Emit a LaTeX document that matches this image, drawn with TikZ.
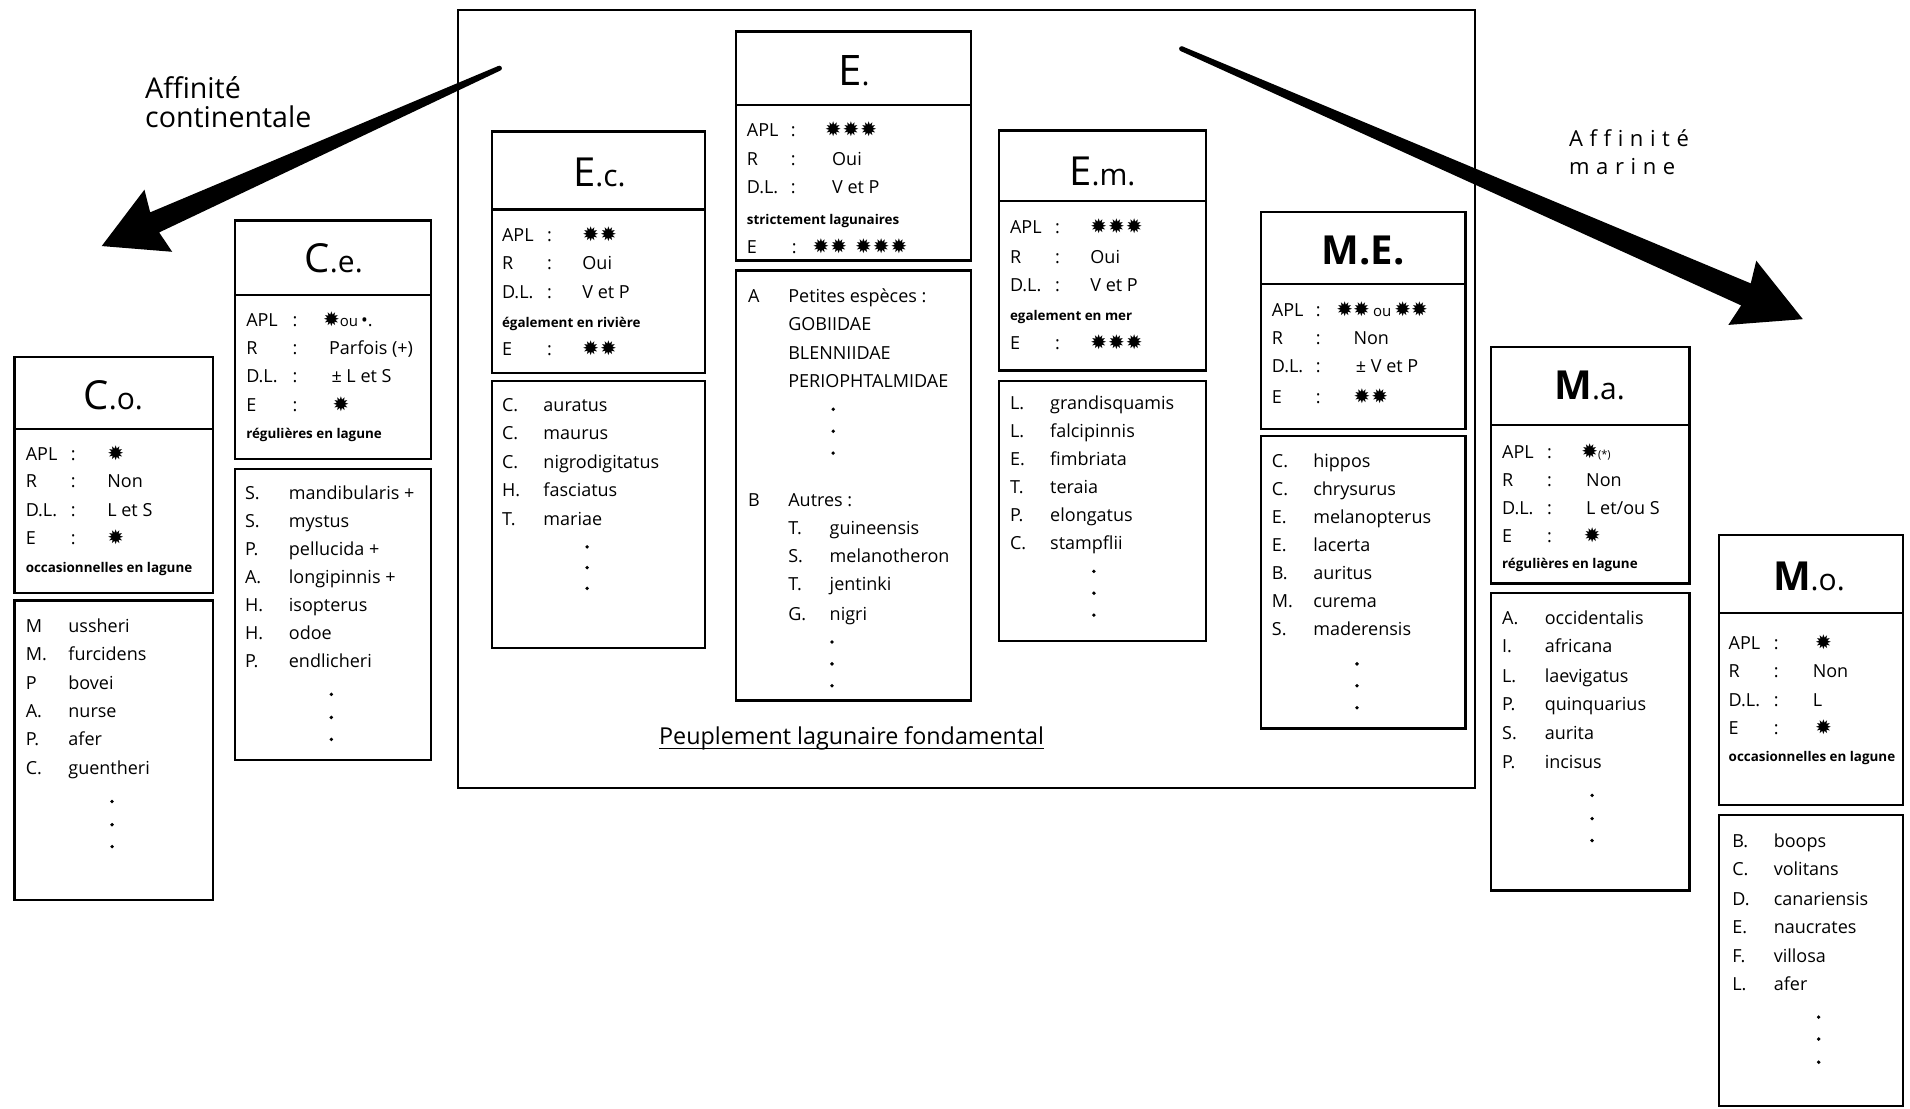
\documentclass[tikz,border=0pt]{standalone}
\usepackage{fontspec}
\setmainfont{Open Sans}
\newfontfamily\starf{DejaVu Sans}
\newfontfamily\spacedf[LetterSpace=30,Ligatures=NoCommon]{Open Sans}
\usetikzlibrary{calc}
\tikzset{
  boxline/.style={line width=2.4pt, line join=miter},
  frameline/.style={line width=2pt},
  txt/.style={anchor=base west, inner sep=0pt, font=\fontsize{18}{20}\selectfont},
  smalltxt/.style={anchor=base west, inner sep=0pt, font=\bfseries\fontsize{13.4}{15}\selectfont},
  ttl/.style={anchor=base, inner sep=0pt, font=\fontsize{40}{44}\selectfont},
  affin/.style={anchor=base west, inner sep=0pt, font=\fontsize{28.6}{32}\selectfont},
  affinm/.style={anchor=base west, inner sep=0pt, font=\spacedf\fontsize{22}{26}\selectfont},
}
\newcommand\st{{\starf\fontsize{20}{20}\selectfont ✹}}
\newcommand\ou{{\fontsize{15}{15}\selectfont ou}}
\newcommand\lc[1]{{\mdseries\fontsize{30}{32}\selectfont #1}}
% x1 x2 top div infobot listtop listbot
\newcommand\fishbox[7]{%
  \draw[boxline] (#1,#3) rectangle (#2,#5);
  \draw[boxline] (#1,#4) -- (#2,#4);
  \draw[boxline] (#1,#6) rectangle (#2,#7);}
% name lx cx vx y label value
\newcommand\kvrow[7]{%
  \node[txt] (#1-l) at (#2,#5+5) {#6};
  \node[txt] (#1-c) at (#3,#5+5) {:};
  \node[txt] (#1-v) at (#4,#5+5) {#7};}
% name ix sx y initial species
\newcommand\sprow[6]{%
  \node[txt] (#1-i) at (#2,#4+5) {#5};
  \node[txt] (#1-s) at (#3,#4+5) {#6};}
% x y1 y2 y3
\newcommand\threedots[4]{%
  \fill (#1,#2) circle (1.9pt);
  \fill (#1,#3) circle (1.9pt);
  \fill (#1,#4) circle (1.9pt);}
% tail tip headlen halfwidth shafthalf
\newcommand\bigarrow[5]{%
  \coordinate (#1-b) at ($(#2)!#3!(#1)$);
  \coordinate (#1-bb) at ($(#2)!#3+4pt!(#1)$);
  \fill ($(#1)!2.5pt!90:(#2)$) -- ($(#1-b)!#5!90:(#2)$) -- ($(#1-bb)!#4!90:(#2)$)
     -- (#2) -- ($(#1-bb)!#4!-90:(#2)$) -- ($(#1-b)!#5!-90:(#2)$)
     -- ($(#1)!2.5pt!-90:(#2)$) -- cycle;
  \fill (#1) circle (2.5pt);}

\begin{document}
\begin{tikzpicture}[x=1.218pt,y=-1.218pt]
\useasboundingbox (0,0) rectangle (1568,910);
\fill[white] (0,0) rectangle (1568,910);

% frame
\draw[frameline] (376,8) rectangle (1211,647);
\node[anchor=base west, inner sep=0pt, font=\fontsize{23.3}{27}\selectfont] (pl) at (541,611) {Peuplement lagunaire fondamental};
\draw[line width=1.4pt] ([yshift=-4pt]pl.base west) -- ([yshift=-4pt]pl.base east);

% arrows
\coordinate (lt) at (410,56);
\coordinate (lh) at (83.5,202);
\bigarrow{lt}{lh}{58pt}{34pt}{11pt}
\coordinate (rt) at (970,40);
\coordinate (rh) at (1480,262);
\bigarrow{rt}{rh}{62pt}{35pt}{12pt}

\node[affin] (ac1) at (119,81) {Affinité};
\node[affin] (ac2) at (119,105) {continentale};
\node[affinm] (am1) at (1288,120) {Affinité};
\node[affinm] (am2) at (1288,143) {marine};

% ---------- C.o.
\fishbox{12}{175}{293}{352}{487}{493}{739}
\node[ttl] (co-t) at (93,336) {C\lc{.o.}};
\kvrow{co-apl}{21}{58}{88}{373}{APL}{\st}
\kvrow{co-r}{21}{58}{88}{395}{R}{Non}
\kvrow{co-dl}{21}{58}{88}{419}{D.L.}{L et S}
\kvrow{co-e}{21}{58}{88}{442}{E}{\st}
\node[smalltxt] (co-n) at (21,470) {occasionnelles en lagune};
\sprow{co-1}{21}{56}{514}{M}{ussheri}
\sprow{co-2}{21}{56}{537}{M.}{furcidens}
\sprow{co-3}{21}{56}{561}{P}{bovei}
\sprow{co-4}{21}{56}{584}{A.}{nurse}
\sprow{co-5}{21}{56}{607}{P.}{afer}
\sprow{co-6}{21}{56}{631}{C.}{guentheri}
\threedots{92}{658}{677}{695}

% ---------- C.e.
\fishbox{193}{354}{181}{242}{377}{385}{624}
\node[ttl] (ce-t) at (274,224) {C\lc{.e.}};
\kvrow{ce-apl}{202}{240}{265}{263}{APL}{\st\ou\,•.}
\kvrow{ce-r}{202}{240}{270}{286}{R}{Parfois (+)}
\kvrow{ce-dl}{202}{240}{272}{309}{D.L.}{± L et S}
\kvrow{ce-e}{202}{240}{273}{333}{E}{\st}
\node[smalltxt] (ce-n) at (202,360) {régulières en lagune};
\sprow{ce-1}{201}{237}{405}{S.}{mandibularis +}
\sprow{ce-2}{201}{237}{428}{S.}{mystus}
\sprow{ce-3}{201}{237}{451}{P.}{pellucida +}
\sprow{ce-4}{201}{237}{474}{A.}{longipinnis +}
\sprow{ce-5}{201}{237}{497}{H.}{isopterus}
\sprow{ce-6}{201}{237}{520}{H.}{odoe}
\sprow{ce-7}{201}{237}{543}{P.}{endlicheri}
\threedots{272}{570}{589}{607}

% ---------- E.c.
\fishbox{404}{579}{108}{172}{306}{313}{532}
\node[ttl] (ec-t) at (492,153) {E\lc{.c.}};
\kvrow{ec-apl}{412}{449}{478}{193}{APL}{\st\kern1pt\st}
\kvrow{ec-r}{412}{449}{478}{216}{R}{Oui}
\kvrow{ec-dl}{412}{449}{478}{240}{D.L.}{V et P}
\node[smalltxt] (ec-n) at (412,269) {également en rivière};
\kvrow{ec-e}{412}{449}{478}{287}{E}{\st\kern1pt\st}
\sprow{ec-1}{412}{446}{333}{C.}{auratus}
\sprow{ec-2}{412}{446}{356}{C.}{maurus}
\sprow{ec-3}{412}{446}{380}{C.}{nigrodigitatus}
\sprow{ec-4}{412}{446}{403}{H.}{fasciatus}
\sprow{ec-5}{412}{446}{426}{T.}{mariae}
\threedots{482}{449}{466}{483}

% ---------- E.
\fishbox{604}{797}{26}{86}{214}{222}{575}
\node[ttl, font=\fontsize{42}{46}\selectfont] (e-t) at (701,70) {E\lc{.}};
\kvrow{e-apl}{613}{649}{677}{107}{APL}{\st\kern1pt\st\kern1pt\st}
\kvrow{e-r}{613}{649}{683}{131}{R}{Oui}
\kvrow{e-dl}{613}{649}{683}{154}{D.L.}{V et P}
\node[smalltxt] (e-n) at (613,184) {strictement lagunaires};
\kvrow{e-e}{613}{650}{667}{203}{E}{\st\kern1pt\st\kern8pt\st\kern1pt\st\kern1pt\st}
\sprow{e-a}{614}{647}{243}{A}{Petites espèces :}
\node[txt] (e-a1) at (647,271) {GOBIIDAE};
\node[txt] (e-a2) at (647,295) {BLENNIIDAE};
\node[txt] (e-a3) at (647,318) {PERIOPHTALMIDAE};
\threedots{684}{336}{354}{372}
\sprow{e-b}{614}{647}{411}{B}{Autres :}
\sprow{e-1}{647}{681}{434}{T.}{guineensis}
\sprow{e-2}{647}{681}{457}{S.}{melanotheron}
\sprow{e-3}{647}{681}{480}{T.}{jentinki}
\sprow{e-4}{647}{681}{504}{G.}{nigri}
\threedots{683}{527}{545}{563}

% ---------- E.m.
\fishbox{820}{990}{107}{165}{304}{313}{526}
\node[ttl] (em-t) at (905,152) {E\lc{.m.}};
\kvrow{em-apl}{829}{866}{895}{187}{APL}{\st\kern1pt\st\kern1pt\st}
\kvrow{em-r}{829}{866}{895}{211}{R}{Oui}
\kvrow{em-dl}{829}{866}{895}{234}{D.L.}{V et P}
\node[smalltxt] (em-n) at (829,263) {egalement en mer};
\kvrow{em-e}{829}{866}{895}{282}{E}{\st\kern1pt\st\kern1pt\st}
\sprow{em-1}{829}{862}{331}{L.}{grandisquamis}
\sprow{em-2}{829}{862}{354}{L.}{falcipinnis}
\sprow{em-3}{829}{862}{377}{E.}{fimbriata}
\sprow{em-4}{829}{862}{400}{T.}{teraia}
\sprow{em-5}{829}{862}{423}{P.}{elongatus}
\sprow{em-6}{829}{862}{446}{C.}{stampflii}
\threedots{898}{469}{487}{505}

% ---------- M.E.
\fishbox{1035}{1203}{174}{233}{352}{358}{598}
\node[ttl, font=\bfseries\fontsize{40}{44}\selectfont] (me-t) at (1119,217) {M.E.};
\kvrow{me-apl}{1044}{1080}{1097}{255}{APL}{\st\st\,\ou\,\st\st}
\kvrow{me-r}{1044}{1080}{1111}{278}{R}{Non}
\kvrow{me-dl}{1044}{1080}{1113}{301}{D.L.}{± V et P}
\kvrow{me-e}{1044}{1080}{1111}{326}{E}{\st\kern1pt\st}
\sprow{me-1}{1044}{1078}{379}{C.}{hippos}
\sprow{me-2}{1044}{1078}{402}{C.}{chrysurus}
\sprow{me-3}{1044}{1078}{425}{E.}{melanopterus}
\sprow{me-4}{1044}{1078}{448}{E.}{lacerta}
\sprow{me-5}{1044}{1078}{471}{B.}{auritus}
\sprow{me-6}{1044}{1078}{494}{M.}{curema}
\sprow{me-7}{1044}{1078}{517}{S.}{maderensis}
\threedots{1114}{545}{563}{581}

% ---------- M.a.
\fishbox{1224}{1387}{285}{349}{479}{487}{731}
\node[ttl, font=\bfseries\fontsize{40}{44}\selectfont] (ma-t) at (1305,328) {M\lc{.a.}};
\kvrow{ma-apl}{1233}{1270}{1298}{371}{APL}{\st{\fontsize{11}{11}\selectfont(*)}}
\kvrow{ma-r}{1233}{1270}{1302}{394}{R}{Non}
\kvrow{ma-dl}{1233}{1270}{1302}{417}{D.L.}{L et/ou S}
\kvrow{ma-e}{1233}{1270}{1300}{440}{E}{\st}
\node[smalltxt] (ma-n) at (1233,467) {régulières en lagune};
\sprow{ma-1}{1233}{1268}{508}{A.}{occidentalis}
\sprow{ma-2}{1233}{1268}{531}{I.}{africana}
\sprow{ma-3}{1233}{1268}{555}{L.}{laevigatus}
\sprow{ma-4}{1233}{1268}{578}{P.}{quinquarius}
\sprow{ma-5}{1233}{1268}{602}{S.}{aurita}
\sprow{ma-6}{1233}{1268}{626}{P.}{incisus}
\threedots{1307}{653}{672}{690}

% ---------- M.o.
\fishbox{1411}{1562}{439}{503}{661}{669}{908}
\node[ttl, font=\bfseries\fontsize{40}{44}\selectfont] (mo-t) at (1485,485) {M\lc{.o.}};
\kvrow{mo-apl}{1419}{1456}{1490}{528}{APL}{\st}
\kvrow{mo-r}{1419}{1456}{1488}{551}{R}{Non}
\kvrow{mo-dl}{1419}{1456}{1488}{575}{D.L.}{L}
\kvrow{mo-e}{1419}{1456}{1490}{598}{E}{\st}
\node[smalltxt] (mo-n) at (1419,625) {occasionnelles en lagune};
\sprow{mo-1}{1422}{1456}{691}{B.}{boops}
\sprow{mo-2}{1422}{1456}{714}{C.}{volitans}
\sprow{mo-3}{1422}{1456}{738}{D.}{canariensis}
\sprow{mo-4}{1422}{1456}{761}{E.}{naucrates}
\sprow{mo-5}{1422}{1456}{785}{F.}{villosa}
\sprow{mo-6}{1422}{1456}{808}{L.}{afer}
\threedots{1493}{835}{853}{872}
\end{tikzpicture}
\end{document}
